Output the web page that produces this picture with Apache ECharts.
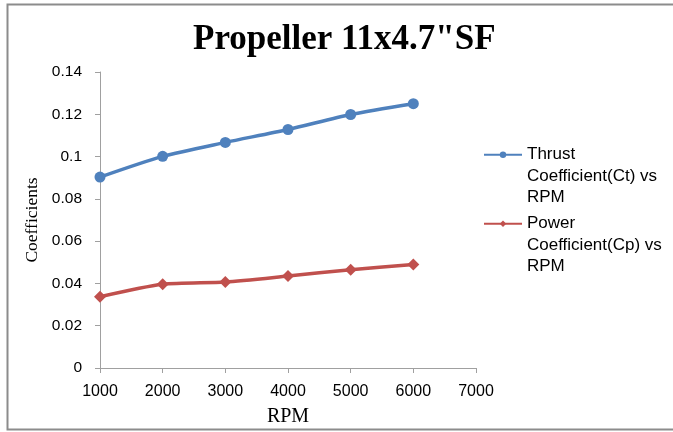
<!DOCTYPE html>
<html>
<head>
<meta charset="utf-8">
<script src="https://cdn.jsdelivr.net/npm/echarts@6/dist/echarts.min.js"></script>
<style>html,body{margin:0;padding:0;background:#fff;}#c{width:673px;height:432px;}</style>
</head>
<body>
<div id="c"></div>
<script>
var rpm = [1000, 2000, 3000, 4000, 5000, 6000];
var thrust = [0.0903, 0.1001, 0.1067, 0.1128, 0.1199, 0.1250];
var power = [0.0337, 0.0396, 0.0407, 0.0435, 0.0465, 0.0489];
var thrustName = 'Thrust\nCoefficient(Ct) vs\nRPM';
var powerName = 'Power\nCoefficient(Cp) vs\nRPM';

function pairs(xs, ys){ return xs.map(function(x,i){ return [x, ys[i]]; }); }

function mkLegend(name, top){
  return {
    orient: 'vertical', left: 483, top: top, padding: 0,
    itemWidth: 38, itemHeight: 8,
    textStyle: {fontFamily: 'Liberation Sans', fontSize: 17, color: '#000', lineHeight: 21.5},
    formatter: function(n){ return '\n\n' + n; },
    data: [name]
  };
}

var chart = echarts.init(document.getElementById('c'), null, {renderer:'canvas'});
chart.setOption({
  animation: false,
  backgroundColor: '#fff',
  title: {
    text: 'Propeller 11x4.7"SF',
    left: 188, top: 17,
    textStyle: {fontFamily: 'Liberation Serif', fontWeight: 'bold', fontSize: 35, color: '#000'}
  },
  graphic: [{
    type: 'rect', shape: {x: 7.5, y: 4.5, width: 670, height: 425},
    style: {fill: 'none', stroke: '#8c8c8c', lineWidth: 2}, silent: true
  }],
  legend: [mkLegend(thrustName, 101), mkLegend(powerName, 170)],
  grid: {left: 100, right: 197, top: 72, bottom: 62},
  xAxis: {
    type: 'value', min: 1000, max: 7000, interval: 1000,
    name: 'RPM', nameLocation: 'middle', nameGap: 39,
    nameTextStyle: {fontFamily: 'Liberation Serif', fontSize: 20, color: '#000'},
    axisLine: {lineStyle: {color: '#a0a0a0'}},
    axisTick: {show: true, inside: false, length: 5, lineStyle: {color: '#a0a0a0'}},
    axisLabel: {fontFamily: 'Liberation Sans', fontSize: 16, color: '#000', margin: 16,
      formatter: function(v){ return String(v); }},
    splitLine: {show: false}
  },
  yAxis: {
    type: 'value', min: 0, max: 0.14, interval: 0.02,
    name: 'Coefficients', nameLocation: 'middle', nameGap: 57,
    nameTextStyle: {fontFamily: 'Liberation Serif', fontSize: 17.5, color: '#000'},
    axisLine: {show: true, lineStyle: {color: '#a0a0a0'}},
    axisTick: {show: true, inside: false, length: 5, lineStyle: {color: '#a0a0a0'}},
    axisLabel: {fontFamily: 'Liberation Sans', fontSize: 15.5, color: '#000', margin: 18,
      formatter: function(v){ return v === 0 ? '0' : String(+v.toFixed(2)); }},
    splitLine: {show: false}
  },
  series: [{
    name: thrustName, type: 'line', data: pairs(rpm, thrust), smooth: 0.25,
    symbol: 'circle', symbolSize: 11,
    lineStyle: {color: '#4f81bd', width: 3.5}, itemStyle: {color: '#4f81bd'}
  }, {
    name: powerName, type: 'line', data: pairs(rpm, power), smooth: 0.25,
    symbol: 'diamond', symbolSize: 12,
    lineStyle: {color: '#c0504d', width: 3.5}, itemStyle: {color: '#c0504d'}
  }]
});
</script>
</body>
</html>
